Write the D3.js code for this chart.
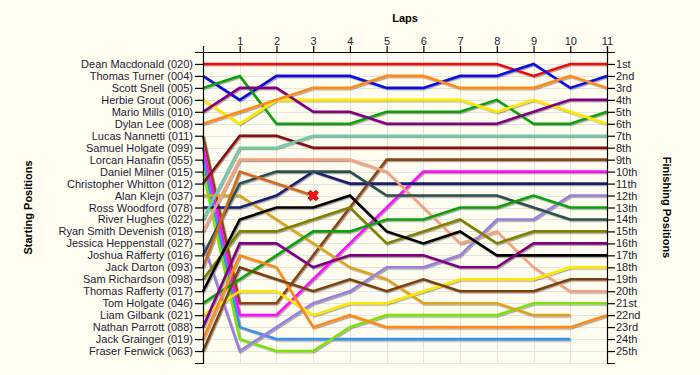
<!DOCTYPE html>
<html>
<head>
<meta charset="utf-8">
<script src="https://cdn.jsdelivr.net/npm/d3@7"></script>
<style>
  html, body { margin: 0; padding: 0; background: #fffdf0; }
  svg { display: block; }
  text { font-family: "Liberation Sans", Arial, sans-serif; }
</style>
</head>
<body>
<svg id="chart" width="700" height="375"></svg>
<script>
// ---------- data ----------
const laps = [0, 1, 2, 3, 4, 5, 6, 7, 8, 9, 10, 11];
const lapTickLabels = [1, 2, 3, 4, 5, 6, 7, 8, 9, 10, 11];

const drivers = [
  "Dean Macdonald (020)", "Thomas Turner (004)", "Scott Snell (005)", "Herbie Grout (006)",
  "Mario Mills (010)", "Dylan Lee (008)", "Lucas Nannetti (011)", "Samuel Holgate (099)",
  "Lorcan Hanafin (055)", "Daniel Milner (015)", "Christopher Whitton (012)", "Alan Klejn (037)",
  "Ross Woodford (078)", "River Hughes (022)", "Ryan Smith Devenish (018)", "Jessica Heppenstall (027)",
  "Joshua Rafferty (016)", "Jack Darton (093)", "Sam Richardson (098)", "Thomas Rafferty (017)",
  "Tom Holgate (046)", "Liam Gilbank (021)", "Nathan Parrott (088)", "Jack Grainger (019)",
  "Fraser Fenwick (063)"
];

const finishLabels = [
  "1st", "2nd", "3rd", "4th", "5th", "6th", "7th", "8th", "9th", "10th", "11th", "12th", "13th",
  "14th", "15th", "16th", "17th", "18th", "19th", "20th", "21st", "22nd", "23rd", "24th", "25th"
];

const colors = [
  "#ee1111", "#1010e0", "#10a010", "#ffe800", "#800080", "#ff8a1a", "#8b4513", "#ff10ff",
  "#3a8fe8", "#80e010", "#8b0a0a", "#daa520", "#1c1c70", "#6ccba8", "#f5a07e", "#9a7ee0",
  "#2f4f4f", "#d2691e", "#808000", "#000000", "#10a010", "#ffe800", "#800080", "#ff8a1a",
  "#7a4010"
];

// position of each driver after each lap (lap 0 = start); null = no data
const positions = [
  [1, 1, 1, 1, 1, 1, 1, 1, 1, 2, 1, 1],
  [2, 4, 2, 2, 2, 3, 3, 2, 2, 1, 3, 2],
  [3, 2, 6, 6, 6, 5, 5, 5, 4, 6, 6, 5],
  [4, 6, 4, 4, 4, 4, 4, 4, 5, 4, 5, 6],
  [5, 3, 3, 5, 5, 6, 6, 6, 6, 5, 4, 4],
  [6, 5, 4, 3, 3, 2, 2, 3, 3, 3, 2, 3],
  [7, 21, 21, 17, 13, 9, 9, 9, 9, 9, 9, 9],
  [8, 22, 22, 19, 16, 13, 10, 10, 10, 10, 10, 10],
  [9, 23, 24, 24, 24, 24, 24, 24, 24, 24, 24, null],
  [10, 24, 25, 25, 23, 22, 22, 22, 22, 21, 21, 21],
  [11, 7, 7, 8, 8, 8, 8, 8, 8, 8, 8, 8],
  [12, 12, 14, 16, 18, 19, 21, 21, 21, 22, 22, null],
  [13, 13, 12, 10, 11, 11, 11, 11, 11, 11, 11, 11],
  [14, 8, 8, 7, 7, 7, 7, 7, 7, 7, 7, 7],
  [15, 9, 9, 9, 9, 10, 13, 16, 15, 18, 20, 20],
  [16, 25, 23, 21, 20, 18, 18, 17, 14, 14, 12, 12],
  [17, 11, 10, 10, 10, 12, 12, 12, 12, 13, 14, 14],
  [18, 10, 11, 12, null, null, null, null, null, null, null, null],
  [19, 15, 15, 14, 13, 16, 15, 14, 16, 15, 15, 15],
  [20, 14, 13, 13, 12, 15, 16, 15, 17, 17, 17, 17],
  [21, 19, 17, 15, 15, 14, 14, 13, 13, 12, 13, 13],
  [22, 20, 20, 22, 21, 21, 20, 19, 19, 19, 18, 18],
  [23, 16, 16, 18, 17, 17, 17, 18, 18, 16, 16, 16],
  [24, 17, 18, 23, 22, 23, 23, 23, 23, 23, 23, 22],
  [25, 18, 19, 20, 19, 20, 19, 20, 20, 20, 19, 19]
];

// retirement marker: driver index 17 (Jack Darton) after lap 3
const retired = [{ driver: 17, lap: 3 }];

// ---------- chart ----------
const svg = d3.select("#chart");
const plotLeft = 203, plotRight = 607, plotTop = 52, plotBottom = 363;
const rankDomain = d3.range(1, drivers.length + 1);

const x = d3.scaleLinear().domain([0, 11]).range([plotLeft, plotRight]);
const y = d3.scalePoint().domain(rankDomain).range([plotTop, plotBottom]).padding(1);

svg.append("rect").attr("width", 700).attr("height", 375).attr("fill", "#fffdf0");

const defs = svg.append("defs");
const f = defs.append("filter").attr("id", "shadow").attr("x", "-10%").attr("y", "-10%")
  .attr("width", "120%").attr("height", "120%");
f.append("feDropShadow").attr("dx", 1).attr("dy", 1.2).attr("stdDeviation", 0.6)
  .attr("flood-color", "#000").attr("flood-opacity", 0.35);

// grid
const grid = svg.append("g").attr("stroke", "#e4e4e0").attr("stroke-width", 1);
laps.slice(1).forEach(l => {
  grid.append("line").attr("x1", Math.round(x(l)) + 0.5).attr("x2", Math.round(x(l)) + 0.5)
    .attr("y1", plotTop).attr("y2", plotBottom);
});
rankDomain.forEach(r => {
  grid.append("line").attr("x1", plotLeft).attr("x2", plotRight)
    .attr("y1", Math.round(y(r)) + 0.5).attr("y2", Math.round(y(r)) + 0.5);
});
grid.append("line").attr("x1", plotLeft).attr("x2", plotRight)
  .attr("y1", plotBottom + 0.5).attr("y2", plotBottom + 0.5);

// lines
const line = d3.line()
  .defined(d => d[1] != null)
  .x(d => x(d[0]))
  .y(d => y(d[1]));

const lineG = svg.append("g").attr("filter", "url(#shadow)");
positions.forEach((p, i) => {
  lineG.append("path")
    .datum(p.map((v, k) => [laps[k], v]))
    .attr("fill", "none")
    .attr("stroke", colors[i])
    .attr("stroke-width", 2.6)
    .attr("d", line);
});

// retired marker
retired.forEach(r => {
  const px = x(r.lap), py = y(positions[r.driver][r.lap]);
  svg.append("path")
    .attr("d", d3.symbol().type(d3.symbolCross).size(70)())
    .attr("transform", `translate(${px},${py}) rotate(45)`)
    .attr("fill", "#ff1010").attr("stroke", "#8a0000").attr("stroke-width", 0.8);
});

// axes
const textColor = "#1c1c38";
const topAxis = d3.axisTop(x).tickValues(lapTickLabels).tickFormat(d3.format("d"))
  .tickSize(6).tickSizeOuter(6).tickPadding(1);
const gTop = svg.append("g").attr("transform", `translate(0,${plotTop})`).call(topAxis);

const leftAxis = d3.axisLeft(y).tickFormat(d => drivers[d - 1]).tickSize(8).tickSizeOuter(8).tickPadding(2);
const gLeft = svg.append("g").attr("transform", `translate(${plotLeft},0)`).call(leftAxis);

const rightAxis = d3.axisRight(y).tickFormat(d => finishLabels[d - 1]).tickSize(8).tickSizeOuter(8).tickPadding(1);
const gRight = svg.append("g").attr("transform", `translate(${plotRight},0)`).call(rightAxis);

[gTop, gLeft, gRight].forEach(g => {
  g.attr("font-family", null).attr("font-size", null);
  g.selectAll("text").attr("font-size", 11).attr("fill", textColor);
  g.selectAll("path, line").attr("stroke", "#000").attr("stroke-width", 1.2);
});

// titles
svg.append("text").attr("x", (plotLeft + plotRight) / 2).attr("y", 22)
  .attr("text-anchor", "middle").attr("font-size", 11).attr("font-weight", "bold")
  .attr("fill", "#000").text("Laps");

svg.append("text")
  .attr("transform", `translate(32,${(plotTop + plotBottom) / 2}) rotate(-90)`)
  .attr("text-anchor", "middle").attr("font-size", 11).attr("font-weight", "bold")
  .attr("fill", "#000").text("Starting Positions");

svg.append("text")
  .attr("transform", `translate(663,${(plotTop + plotBottom) / 2}) rotate(90)`)
  .attr("text-anchor", "middle").attr("font-size", 11).attr("font-weight", "bold")
  .attr("fill", "#000").text("Finishing Positions");
</script>
</body>
</html>
